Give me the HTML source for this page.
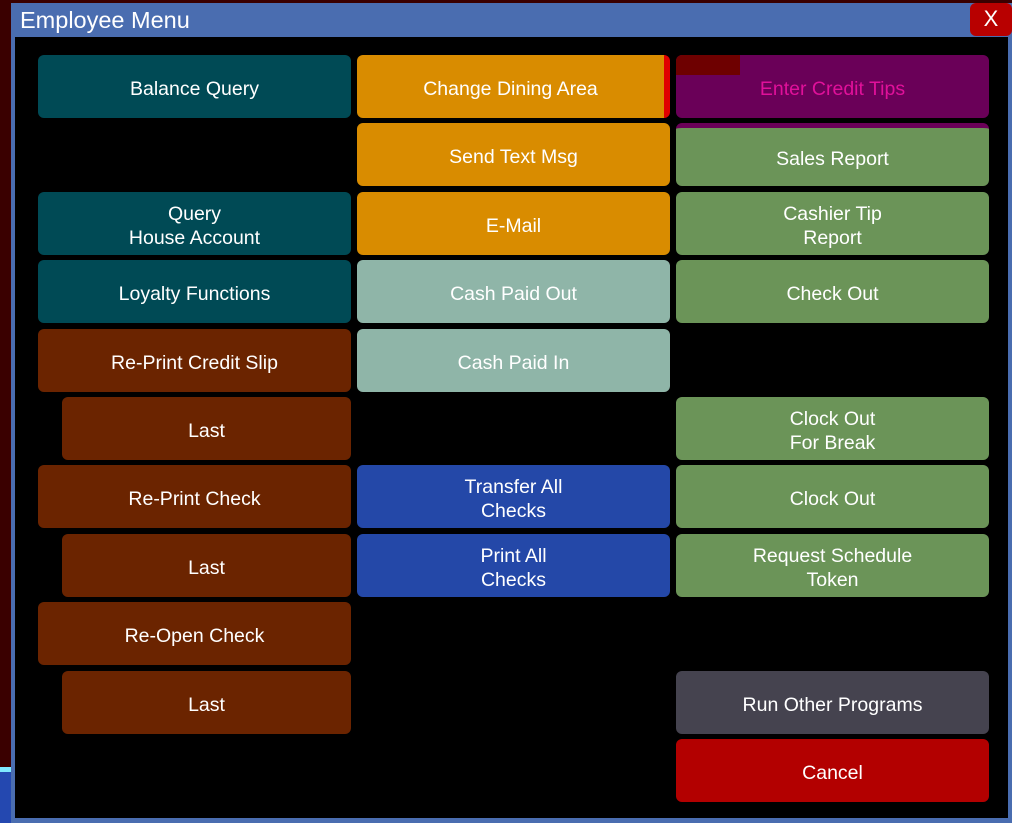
<!DOCTYPE html>
<html><head><style>
body{margin:0;width:1012px;height:823px;background:#3a0000;position:relative;overflow:hidden;font-family:"Liberation Sans",sans-serif}
.win{position:absolute;left:11px;top:3px;width:1001px;height:820px;background:#4a6db0}
.title{position:absolute;left:20px;top:7px;color:#fff;font-size:23.5px}
.x{position:absolute;left:970px;top:3px;width:42px;height:33px;background:#b80000;border-radius:6px;color:#fff;font-size:22px;text-align:center;line-height:32px}
.content{position:absolute;left:15px;top:37px;width:993px;height:781px;background:#000}
.b{position:absolute;border-radius:6px;color:#fff;font-size:19.5px;display:flex;align-items:center;justify-content:center;text-align:center;line-height:24px;height:59px;padding-top:4px;box-sizing:content-box}
.c1{left:38px;width:313px}.c1i{left:62px;width:289px}.c2{left:357px;width:313px}.c3{left:676px;width:313px}
.tl{background:#004a55}.or{background:#d98c00}.gr{background:#6b9458}.lt{background:#8fb5a8}.br{background:#6b2400}.bl{background:#2448a8}
</style></head><body>
<div class="win"></div>
<div class="title">Employee Menu</div>
<div class="x">X</div>
<div class="content"></div>
<div style="position:absolute;left:0;top:767px;width:11px;height:5px;background:#7fe8ff"></div>
<div style="position:absolute;left:0;top:772px;width:11px;height:51px;background:#2448b0"></div>

<div class="b c1 tl" style="top:55px">Balance Query</div>
<div class="b c1 tl" style="top:192px">Query<br>House Account</div>
<div class="b c1 tl" style="top:260px">Loyalty Functions</div>
<div class="b c1 br" style="top:329px">Re-Print Credit Slip</div>
<div class="b c1i br" style="top:397px">Last</div>
<div class="b c1 br" style="top:465px">Re-Print Check</div>
<div class="b c1i br" style="top:534px">Last</div>
<div class="b c1 br" style="top:602px">Re-Open Check</div>
<div class="b c1i br" style="top:671px">Last</div>

<div class="b c2 or" style="top:55px;border-right:6px solid #e00000;width:307px">Change Dining Area</div>
<div class="b c2 or" style="top:123px">Send Text Msg</div>
<div class="b c2 or" style="top:192px">E-Mail</div>
<div class="b c2 lt" style="top:260px">Cash Paid Out</div>
<div class="b c2 lt" style="top:329px">Cash Paid In</div>
<div class="b c2 bl" style="top:465px">Transfer All<br>Checks</div>
<div class="b c2 bl" style="top:534px">Print All<br>Checks</div>

<div class="b c3" style="top:55px;background:#6a0058;color:#e0109a;overflow:hidden">Enter Credit Tips<div style="position:absolute;left:0;top:0;width:64px;height:20px;background:#6e0000"></div></div>
<div class="b c3 gr" style="top:123px;border-top:5px solid #6a0058;height:54px">Sales Report</div>
<div class="b c3 gr" style="top:192px">Cashier Tip<br>Report</div>
<div class="b c3 gr" style="top:260px">Check Out</div>
<div class="b c3 gr" style="top:397px">Clock Out<br>For Break</div>
<div class="b c3 gr" style="top:465px">Clock Out</div>
<div class="b c3 gr" style="top:534px">Request Schedule<br>Token</div>
<div class="b c3" style="top:671px;background:#45434f">Run Other Programs</div>
<div class="b c3" style="top:739px;background:#b30000">Cancel</div>
</body></html>
